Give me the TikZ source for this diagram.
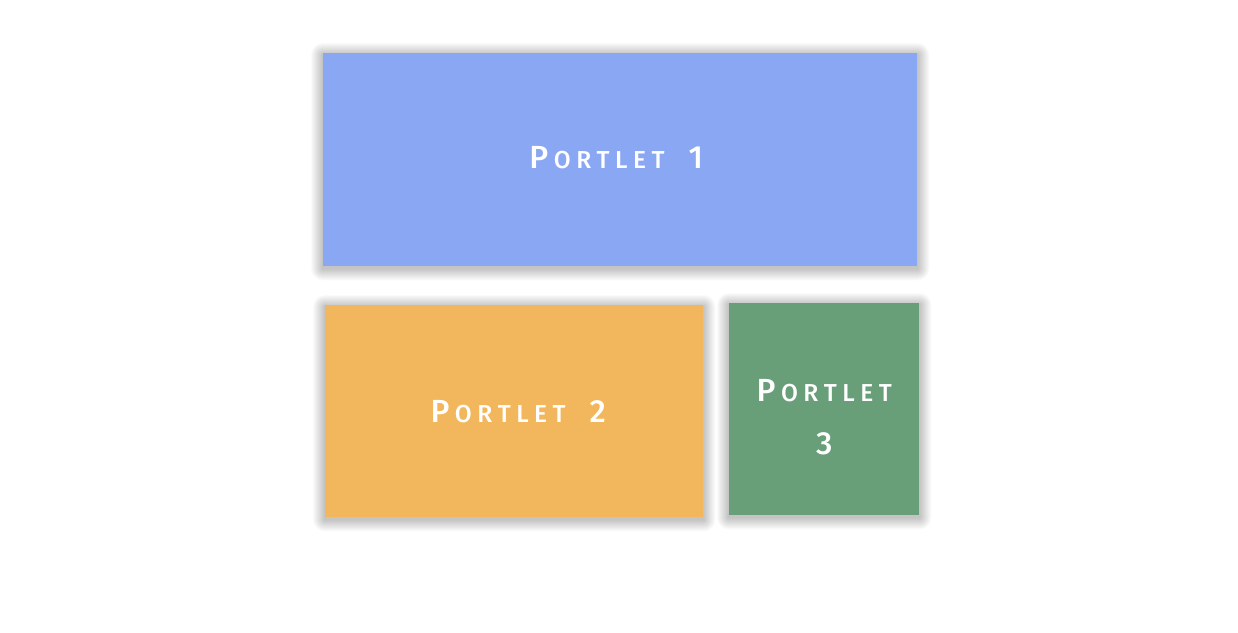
\documentclass[tikz,border=0pt]{standalone}
\usepackage{fontspec}
\setmainfont{Fira Sans}[UprightFont=* Medium]
\usetikzlibrary{calc,backgrounds}
\definecolor{pblue}{HTML}{8AA7F4}
\definecolor{porange}{HTML}{F2B75C}
\definecolor{pgreen}{HTML}{689E78}
\newcommand{\BigC}[1]{{\fontsize{32}{34}\selectfont #1}}
\newcommand{\SmC}[1]{{\fontsize{24.5}{34}\selectfont #1}}
\newcommand{\Lk}{\kern5.5pt}
\newcommand{\PortletWord}{\BigC{P}\Lk\SmC{O\Lk R\Lk T\Lk L\Lk E\Lk T}}
\tikzset{
  portlet/.style={draw=none, inner sep=0pt, anchor=north west},
  lbl/.style={text=white, align=center, font=\fontsize{32}{53}\selectfont}
}
\newcommand{\softshadow}[1]{%
  \foreach \r in {1,...,12}{
    \fill[black, opacity=0.02, rounded corners=\r pt]
      ($(#1.north west)+(-\r pt,\r pt-2pt)$) rectangle ($(#1.south east)+(\r pt,-\r pt-2pt)$);
  }}
\begin{document}
\begin{tikzpicture}[x=1pt,y=-1pt]
\useasboundingbox (0,0) rectangle (1238,632);
\node[portlet, fill=pblue, minimum width=594pt, minimum height=213pt] (p1) at (323,53) {};
\node[portlet, fill=porange, minimum width=378pt, minimum height=212pt] (p2) at (325,305) {};
\node[portlet, fill=pgreen, minimum width=190pt, minimum height=212pt] (p3) at (729,303) {};
\begin{pgfonlayer}{background}
\fill[white] (0,0) rectangle (1238,632);
\softshadow{p1}
\softshadow{p2}
\softshadow{p3}
\end{pgfonlayer}
\node[lbl] (t1) at ([shift={(-4pt,2pt)}]p1.center) {\PortletWord\hspace{24pt}\BigC{1}};
\node[lbl] (t2) at ([shift={(4pt,0pt)}]p2.center) {\PortletWord\hspace{24pt}\BigC{2}};
\node[lbl] (t3) at ([yshift=-8pt]p3.center) {\PortletWord\\\BigC{3}};
\end{tikzpicture}
\end{document}
